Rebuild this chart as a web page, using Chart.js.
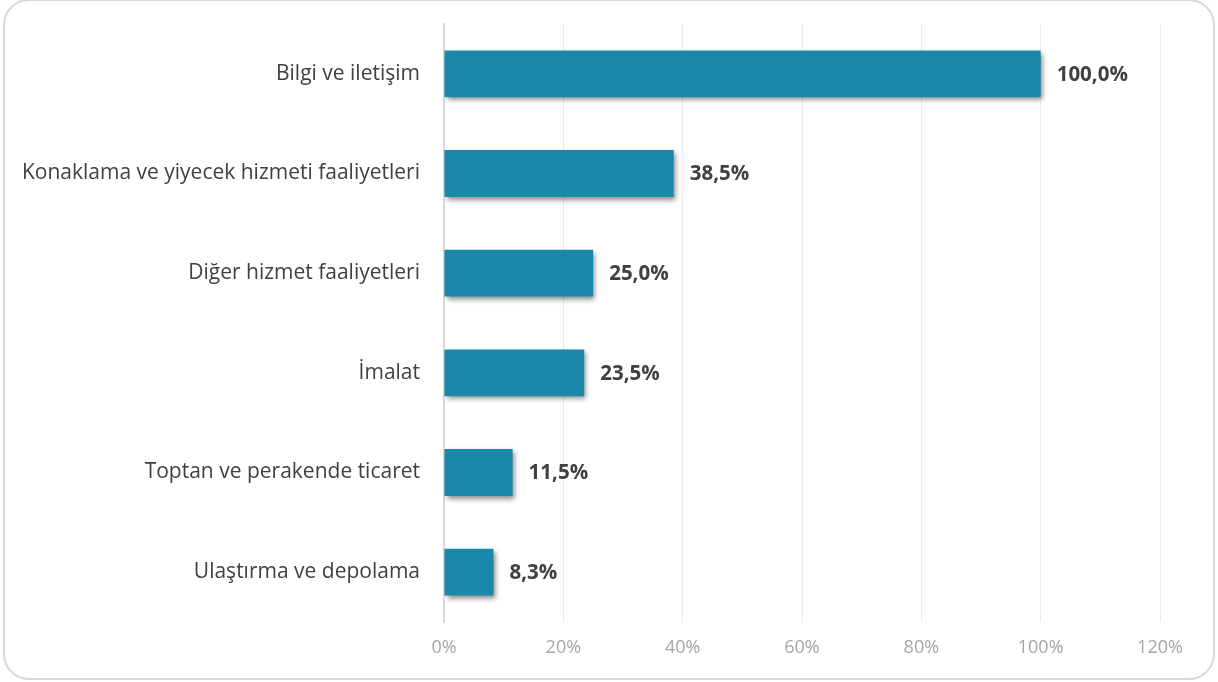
<!DOCTYPE html>
<html lang='tr'>
<head>
    <meta charset='UTF-8'>
    <title>Sektörler</title>
    <script src="https://cdn.jsdelivr.net/npm/chart.js"></script>
    <style>
        html, body { margin: 0; padding: 0; background: #fff; }
        #frame {
            position: absolute; left: 3px; top: -1px; width: 1208px; height: 677px;
            border: 2px solid #d9d9d9; border-radius: 26px;
        }
        #chart_sect { position: absolute; left: 0; top: 0; width: 1218px; height: 682px; }
    </style>
</head>
<body>
    <div id="frame"></div>
    <div id="chart_sect">
        <canvas id="myChart" width="1218" height="682"></canvas>
    </div>

    <script>
        const sectors = ['Bilgi ve iletişim', 'Konaklama ve yiyecek hizmeti faaliyetleri', 'Diğer hizmet faaliyetleri', 'İmalat', 'Toptan ve perakende ticaret', 'Ulaştırma ve depolama'];
        const shares = [100.0, 38.5, 25.0, 23.5, 11.5, 8.3];
        const x_ticks = [0, 20, 40, 60, 80, 100, 120];

        // bar shadow
        const shadow_plugin = {
            id: 'barShadow',
            beforeDatasetDraw(chart) {
                const ctx = chart.ctx;
                ctx.save();
                ctx.shadowColor = 'rgba(0,0,0,0.45)';
                ctx.shadowBlur = 5;
                ctx.shadowOffsetX = 2;
                ctx.shadowOffsetY = 3;
            },
            afterDatasetDraw(chart) {
                chart.ctx.restore();
            }
        };

        // value labels at the end of each bar
        const value_labels = {
            id: 'valueLabels',
            afterDatasetsDraw(chart) {
                const ctx = chart.ctx;
                const meta = chart.getDatasetMeta(0);
                ctx.save();
                ctx.font = 'bold 20.5px "Open Sans"';
                ctx.fillStyle = '#404040';
                ctx.textAlign = 'left';
                ctx.textBaseline = 'middle';
                meta.data.forEach((bar, i) => {
                    const txt = shares[i].toFixed(1).replace('.', ',') + '%';
                    ctx.fillText(txt, bar.x + 16, bar.y + 1);
                });
                ctx.restore();
            }
        };

        new Chart(document.getElementById('myChart'), {
            type: 'bar',
            data: {
                labels: sectors,
                datasets: [{
                    data: shares,
                    backgroundColor: '#1b88ab',
                    borderWidth: 0,
                    barPercentage: 0.47,
                    categoryPercentage: 1
                }]
            },
            options: {
                indexAxis: 'y',
                responsive: false,
                animation: false,
                devicePixelRatio: 1,
                layout: { padding: { top: 24, right: 58, bottom: 0, left: 0 } },
                plugins: { legend: { display: false }, tooltip: { enabled: false } },
                scales: {
                    x: {
                        min: 0, max: 120,
                        afterBuildTicks: (s) => { s.ticks = x_ticks.map(v => ({ value: v })); },
                        afterFit: (s) => { s.height = 60; s.paddingLeft = 0; s.paddingRight = 0; },
                        grid: { color: '#ebebeb', lineWidth: 1, drawTicks: false },
                        border: { display: false },
                        ticks: {
                            padding: 15,
                            color: '#a6a6a6',
                            font: { family: 'Open Sans', size: 18 },
                            callback: (v) => v + '%'
                        }
                    },
                    y: {
                        afterFit: (s) => { s.width = 444; s.paddingTop = 0; s.paddingBottom = 0; },
                        grid: { display: false, drawTicks: false },
                        border: { color: '#d9d9d9', width: 2 },
                        ticks: {
                            padding: 24,
                            color: '#404040',
                            font: { family: 'Open Sans', size: 21 }
                        }
                    }
                }
            },
            plugins: [shadow_plugin, value_labels]
        });
    </script>
</body>
</html>
